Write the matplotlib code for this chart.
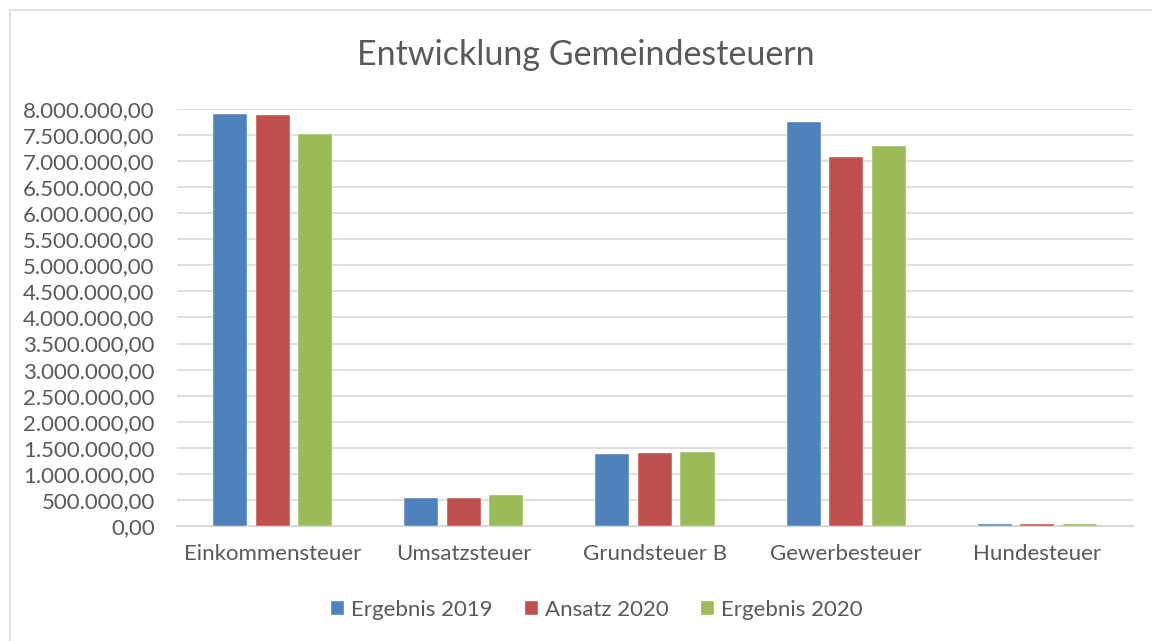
import matplotlib.pyplot as plt
import matplotlib.patches as mpatches
import numpy as np
from matplotlib.ticker import FuncFormatter, MultipleLocator

# Daten
kategorien = ["Einkommensteuer", "Umsatzsteuer", "Grundsteuer B", "Gewerbesteuer", "Hundesteuer"]
ergebnis_2019 = [7895000, 535000, 1390000, 7745000, 45000]
ansatz_2020 = [7875000, 535000, 1395000, 7085000, 45000]
ergebnis_2020 = [7525000, 595000, 1420000, 7295000, 45000]
serien = ["Ergebnis 2019", "Ansatz 2020", "Ergebnis 2020"]
farben = ["#4F81BD", "#C0504D", "#9BBB59"]

TEXT = "#595959"
GRID = "#D9D9D9"
plt.rcParams["font.family"] = ["Lato", "DejaVu Sans"]


def de_format(v, _pos=None):
    s = f"{v:,.2f}"
    return s.replace(",", "X").replace(".", ",").replace("X", ".")


fig = plt.figure(figsize=(11.52, 6.41), dpi=100)
ax = fig.add_axes([0.1536, 0.1794, 0.8299, 0.6506])

# Rahmen um das Diagramm
fig.patches.append(mpatches.Rectangle((10 / 1152, -0.01), 1.2, (641 - 10) / 641 + 0.01,
                                      transform=fig.transFigure, fill=False,
                                      edgecolor=GRID, lw=1.2))

x = np.arange(len(kategorien))
breite = 0.178
schritt = 0.2225
for i, (werte, name, farbe) in enumerate(zip([ergebnis_2019, ansatz_2020, ergebnis_2020], serien, farben)):
    ax.bar(x + (i - 1) * schritt, werte, breite, color=farbe, label=name,
           edgecolor="white", linewidth=0.3, zorder=3)

ax.set_xlim(-0.5, len(kategorien) - 0.5)
ax.set_ylim(0, 8000000)
ax.yaxis.set_major_locator(MultipleLocator(500000))
ax.yaxis.set_major_formatter(FuncFormatter(de_format))
ax.grid(axis="y", color=GRID, lw=1.2, zorder=0)
ax.set_xticks(x)
ax.set_xticklabels(kategorien)
ax.tick_params(axis="both", length=0, colors=TEXT, labelsize=16)
ax.tick_params(axis="x", pad=13)
ax.tick_params(axis="y", pad=16)
for s in ["top", "right", "left"]:
    ax.spines[s].set_visible(False)
ax.spines["bottom"].set_color(GRID)
ax.spines["bottom"].set_linewidth(1.5)

fig.text(0.5087, 0.914, "Entwicklung Gemeindesteuern", ha="center", va="center",
         fontsize=24.5, color=TEXT)

ax.legend(loc="center", bbox_to_anchor=(0.518, 0.048), bbox_transform=fig.transFigure,
          ncol=3, frameon=False, fontsize=16, labelcolor=TEXT,
          handlelength=0.6, handleheight=0.6, handletextpad=0.3, columnspacing=1.45)

fig.savefig("out.png", dpi=100)
